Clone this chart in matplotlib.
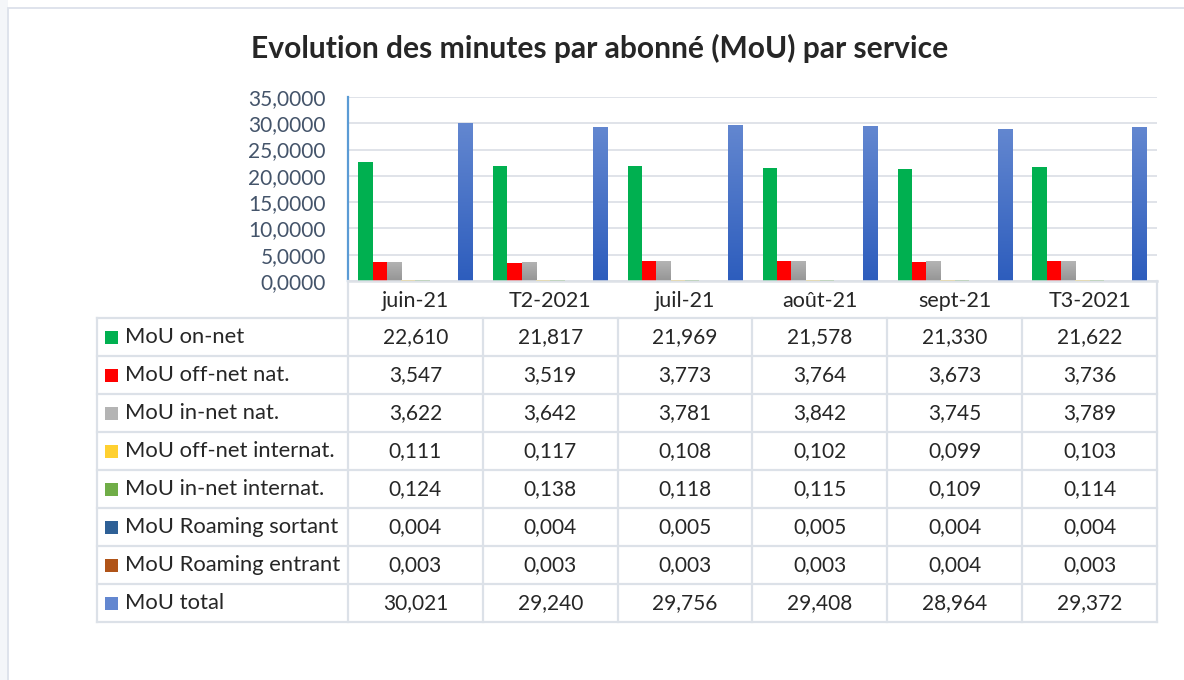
import numpy as np
import matplotlib.pyplot as plt
from matplotlib import transforms
from matplotlib.patches import Rectangle
from matplotlib.colors import LinearSegmentedColormap

plt.rcParams['font.family'] = ['Lato', 'DejaVu Sans']

categories = ["juin-21", "T2-2021", "juil-21", "août-21", "sept-21", "T3-2021"]
series_names = ["MoU on-net", "MoU off-net nat.", "MoU in-net nat.",
                "MoU off-net internat.", "MoU in-net internat.",
                "MoU Roaming sortant", "MoU Roaming entrant", "MoU total"]

on_net = [22.610, 21.817, 21.969, 21.578, 21.330, 21.622]
off_net_nat = [3.547, 3.519, 3.773, 3.764, 3.673, 3.736]
in_net_nat = [3.622, 3.642, 3.781, 3.842, 3.745, 3.789]
off_net_int = [0.111, 0.117, 0.108, 0.102, 0.099, 0.103]
in_net_int = [0.124, 0.138, 0.118, 0.115, 0.109, 0.114]
roaming_out = [0.004, 0.004, 0.005, 0.005, 0.004, 0.004]
roaming_in = [0.003, 0.003, 0.003, 0.003, 0.004, 0.003]
total = [30.021, 29.240, 29.756, 29.408, 28.964, 29.372]

y_ticks = [0, 5, 10, 15, 20, 25, 30, 35]

series = [on_net, off_net_nat, in_net_nat, off_net_int, in_net_int,
          roaming_out, roaming_in, total]
# (top colour, bottom colour) - same value means flat fill
colors = [("#00B050", "#00B050"), ("#FF0000", "#FF0000"), ("#B4B4B4", "#959595"),
          ("#FFD030", "#F5B800"), ("#70AD47", "#70AD47"), ("#2E6096", "#1F4E79"),
          ("#B05418", "#9A3F08"), ("#6387D0", "#2D5DBD")]

W, H = 1184, 680
fig = plt.figure(figsize=(W / 100, H / 100), dpi=100)

# pixel layout of the plot area
px_l, px_r, px_t, px_b = 348, 1157, 97, 281
ax = fig.add_axes([px_l / W, 1 - px_b / H, (px_r - px_l) / W, (px_b - px_t) / H])

x = np.arange(len(categories))
n = len(series)
width = 0.106

grad = np.linspace(0, 1, 256).reshape(-1, 1)
for i, (vals, (top, bot)) in enumerate(zip(series, colors)):
    bars = ax.bar(x + (i - (n - 1) / 2) * width, vals, width, color=top,
                  zorder=2, linewidth=0)
    if top != bot:
        cmap = LinearSegmentedColormap.from_list("g%d" % i, [bot, top])
        for b in bars:
            x0 = b.get_x()
            im = ax.imshow(grad, cmap=cmap, origin="lower", aspect="auto",
                           extent=(x0, x0 + b.get_width(), 0, b.get_height()),
                           zorder=2)
            im.set_clip_path(b)
            b.set_facecolor("none")

ax.set_xlim(-0.5, len(categories) - 0.5)
ax.set_ylim(0, 35)
ax.set_aspect("auto")
ax.set_yticks(y_ticks)
ax.set_yticklabels([("%.4f" % v).replace(".", ",") for v in y_ticks],
                   color="#44546A", fontsize=15)
ax.tick_params(axis="y", length=0, pad=16)
ax.set_xticks(x)
ax.set_xticklabels(categories, fontsize=15.5, color="#262626")
ax.tick_params(axis="x", length=0, pad=7)
ax.grid(axis="y", color="#DDE1E7", linewidth=1.3, zorder=0)
ax.set_axisbelow(True)
for s in ["top", "right"]:
    ax.spines[s].set_visible(False)
ax.spines["left"].set_color("#5B9BD5")
ax.spines["left"].set_linewidth(1.6)
ax.spines["bottom"].set_color("#DDE1E7")
ax.spines["bottom"].set_linewidth(1.8)
ax.spines["bottom"].set_zorder(4)

# overlay in pixel coordinates for the data table and frame
ov = fig.add_axes([0, 0, 1, 1], zorder=-1)
ov.set_xlim(0, W)
ov.set_ylim(H, 0)
ov.axis("off")
ov.add_patch(Rectangle((0, 0), 8, H, facecolor="#F4F6F9", edgecolor="none"))
ov.add_patch(Rectangle((8, 8), W, H, facecolor="white", edgecolor="#DCE1EA",
                       linewidth=1.3))

tab = fig.add_axes([0, 0, 1, 1], zorder=2)
tab.set_xlim(0, W)
tab.set_ylim(H, 0)
tab.axis("off")
blend = transforms.blended_transform_factory(ax.transData, tab.transData)

line_c = "#DCE1E8"
tab_l = 97
row_top = 318
row_h = 38
row_bot = row_top + row_h * n

# header column borders (left/right of plot area down to table)
tab.plot([px_l, px_l], [px_b, row_bot], color=line_c, lw=1.6)
tab.plot([px_r, px_r], [px_b, row_bot], color=line_c, lw=1.6)
tab.plot([tab_l, tab_l], [row_top, row_bot], color=line_c, lw=1.6)
for k in range(n + 1):
    yy = row_top + k * row_h
    tab.plot([tab_l, px_r], [yy, yy], color=line_c, lw=1.6)
for j in range(1, len(categories)):
    tab.plot([j - 0.5, j - 0.5], [row_top, row_bot], color=line_c, lw=1.6,
             transform=blend)

for i, (name, vals, (top, bot)) in enumerate(zip(series_names, series, colors)):
    yc = row_top + (i + 0.5) * row_h
    tab.add_patch(Rectangle((105, yc - 6.5), 13, 13, facecolor=top,
                            edgecolor="none"))
    tab.text(125, yc, name, fontsize=15.8, color="#262626", va="center", ha="left")
    for j, v in enumerate(vals):
        tab.text(j, yc, ("%.3f" % v).replace(".", ","), fontsize=15,
                 color="#262626", va="center", ha="center", transform=blend)

fig.text(600 / W, 1 - 48 / H, "Evolution des minutes par abonné (MoU) par service",
         fontsize=21.6, fontweight="bold", color="#262626", ha="center", va="center")

plt.savefig("out.png", dpi=100)
